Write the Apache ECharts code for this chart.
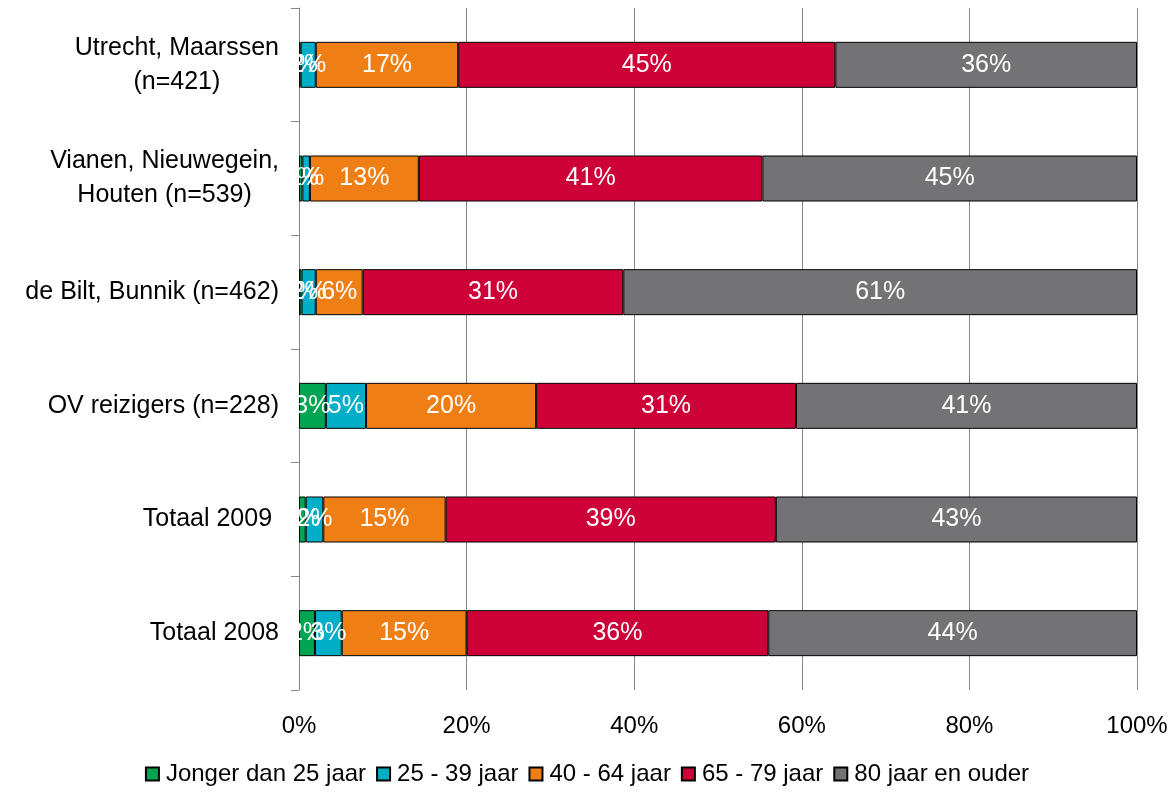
<!DOCTYPE html>
<html>
<head>
<meta charset="utf-8">
<title>Leeftijd</title>
<script src="https://cdn.jsdelivr.net/npm/echarts@6/dist/echarts.min.js"></script>
<style>
  html, body { margin: 0; padding: 0; background: #fff; }
  #chart { width: 1174px; height: 808px; }
</style>
</head>
<body>
<div id="chart"></div>
<script>
  // categories, top to bottom
  var categories = [
    'Utrecht, Maarssen\n(n=421)',
    'Vianen, Nieuwegein,\nHouten (n=539)',
    'de Bilt, Bunnik (n=462)',
    'OV reizigers (n=228)',
    'Totaal 2009 ',
    'Totaal 2008'
  ]
  var seriesNames = ['Jonger dan 25 jaar', '25 - 39 jaar', '40 - 64 jaar', '65 - 79 jaar', '80 jaar en ouder']

  // percentages per age group
  var jonger25 = [0.2, 0.4, 0.3, 3.2, 0.8, 1.9]
  var jaar25_39 = [1.8, 0.9, 1.7, 4.8, 2.1, 3.2]
  var jaar40_64 = [17, 13, 5.6, 20.3, 14.6, 14.9]
  var jaar65_79 = [45, 41, 31.1, 31, 39.4, 36]
  var jaar80plus = [36, 44.7, 61.3, 40.7, 43.1, 44]

  var xTicks = [0, 20, 40, 60, 80, 100]

  var colors = ['#00A551', '#00AEC8', '#EF7F14', '#CD0038', '#737376']
  var allData = [jonger25, jaar25_39, jaar40_64, jaar65_79, jaar80plus]

  var chart = echarts.init(document.getElementById('chart'))

  var series = seriesNames.map(function (name, i) {
    return {
      name: name,
      type: 'bar',
      stack: 'total',
      barWidth: 46,
      data: allData[i],
      itemStyle: {
        color: colors[i],
        borderColor: '#000',
        borderWidth: 1
      },
      label: {
        show: true,
        position: 'inside',
        color: '#fff',
        fontFamily: 'Liberation Sans, Arial, sans-serif',
        fontSize: 25,
        formatter: function (p) {
          return Math.round(p.value) + '%'
        }
      },
      animation: false
    }
  })

  chart.setOption({
    animation: false,
    textStyle: { fontFamily: 'Liberation Sans, Arial, sans-serif' },
    grid: {
      left: 299,
      right: 37,
      top: 8,
      bottom: 118
    },
    legend: {
      data: seriesNames,
      left: 'center',
      top: 757,
      icon: 'rect',
      itemWidth: 13,
      itemHeight: 13,
      itemGap: 10,
      textStyle: {
        color: '#000',
        fontSize: 24,
        padding: [0, 0, 0, 2]
      }
    },
    xAxis: {
      type: 'value',
      min: xTicks[0],
      max: xTicks[xTicks.length - 1],
      interval: xTicks[1] - xTicks[0],
      axisLine: { show: false },
      axisTick: { show: false },
      splitLine: {
        lineStyle: { color: '#888', width: 1 }
      },
      axisLabel: {
        color: '#000',
        fontSize: 24,
        margin: 24,
        formatter: '{value}%'
      }
    },
    yAxis: {
      type: 'category',
      inverse: true,
      data: categories,
      axisLine: {
        lineStyle: { color: '#888', width: 1 }
      },
      axisTick: {
        show: true,
        length: 8,
        lineStyle: { color: '#888' }
      },
      axisLabel: {
        color: '#000',
        fontSize: 25,
        margin: 20,
        lineHeight: 34,
        formatter: function (val) {
          return val.split('\n').map(function (s) { return '{c|' + s + '}' }).join('\n')
        },
        rich: {
          c: { align: 'center', fontSize: 25, lineHeight: 34, color: '#000' }
        }
      }
    },
    series: series
  })
</script>
</body>
</html>
